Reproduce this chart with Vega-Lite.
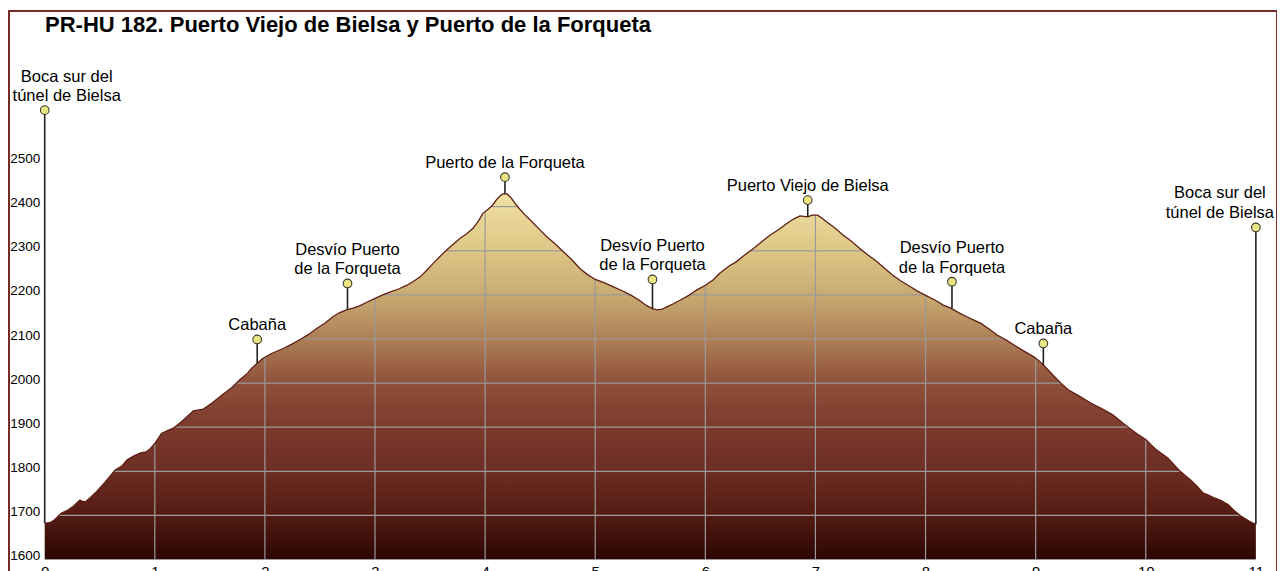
{
  "$schema": "https://vega.github.io/schema/vega-lite/v6.json",
  "width": 1268,
  "height": 589,
  "autosize": {"type": "none"},
  "padding": {"left": 9, "top": 11, "right": 0, "bottom": 0},
  "background": "white",
  "config": {
    "view": {"stroke": "#7a2b28", "strokeWidth": 2},
    "font": "Liberation Sans"
  },
  "title": {
    "text": "PR-HU 182. Puerto Viejo de Bielsa y Puerto de la Forqueta",
    "orient": "none",
    "anchor": "start",
    "frame": "group",
    "font": "Liberation Sans",
    "fontSize": 22,
    "fontWeight": "bold",
    "color": "#000000",
    "baseline": "alphabetic",
    "align": "left",
    "dx": 36,
    "dy": 21
  },
  "datasets": {
    "profile": [
      {"km": 0, "elev": 1682}, {"km": 0.05, "elev": 1684}, {"km": 0.09, "elev": 1690}, {"km": 0.15, "elev": 1705},
      {"km": 0.21, "elev": 1712}, {"km": 0.26, "elev": 1721}, {"km": 0.32, "elev": 1735}, {"km": 0.35, "elev": 1731},
      {"km": 0.37, "elev": 1731}, {"km": 0.42, "elev": 1742}, {"km": 0.47, "elev": 1754}, {"km": 0.55, "elev": 1776},
      {"km": 0.64, "elev": 1803}, {"km": 0.7, "elev": 1812}, {"km": 0.75, "elev": 1826}, {"km": 0.81, "elev": 1835},
      {"km": 0.87, "elev": 1842}, {"km": 0.92, "elev": 1844}, {"km": 0.96, "elev": 1852}, {"km": 1.0, "elev": 1863},
      {"km": 1.06, "elev": 1886}, {"km": 1.12, "elev": 1893}, {"km": 1.17, "elev": 1898}, {"km": 1.25, "elev": 1914},
      {"km": 1.35, "elev": 1937}, {"km": 1.44, "elev": 1941}, {"km": 1.52, "elev": 1955}, {"km": 1.61, "elev": 1973},
      {"km": 1.7, "elev": 1990}, {"km": 1.77, "elev": 2007}, {"km": 1.84, "elev": 2022}, {"km": 1.88, "elev": 2034},
      {"km": 1.93, "elev": 2045}, {"km": 1.98, "elev": 2056}, {"km": 2.05, "elev": 2066}, {"km": 2.17, "elev": 2079},
      {"km": 2.24, "elev": 2088}, {"km": 2.32, "elev": 2099}, {"km": 2.4, "elev": 2111}, {"km": 2.47, "elev": 2124},
      {"km": 2.55, "elev": 2137}, {"km": 2.62, "elev": 2151}, {"km": 2.68, "elev": 2160}, {"km": 2.74, "elev": 2166},
      {"km": 2.8, "elev": 2170}, {"km": 2.86, "elev": 2175}, {"km": 2.93, "elev": 2184}, {"km": 3.0, "elev": 2192},
      {"km": 3.07, "elev": 2200}, {"km": 3.14, "elev": 2207}, {"km": 3.22, "elev": 2214}, {"km": 3.29, "elev": 2222},
      {"km": 3.35, "elev": 2231}, {"km": 3.41, "elev": 2241}, {"km": 3.47, "elev": 2256}, {"km": 3.53, "elev": 2272},
      {"km": 3.59, "elev": 2287}, {"km": 3.65, "elev": 2302}, {"km": 3.71, "elev": 2315}, {"km": 3.77, "elev": 2328},
      {"km": 3.83, "elev": 2338}, {"km": 3.89, "elev": 2351}, {"km": 3.94, "elev": 2368}, {"km": 3.98, "elev": 2385},
      {"km": 4.03, "elev": 2395}, {"km": 4.07, "elev": 2404}, {"km": 4.1, "elev": 2415}, {"km": 4.13, "elev": 2423},
      {"km": 4.16, "elev": 2429}, {"km": 4.2, "elev": 2429}, {"km": 4.24, "elev": 2419}, {"km": 4.28, "elev": 2405},
      {"km": 4.32, "elev": 2393}, {"km": 4.36, "elev": 2382}, {"km": 4.41, "elev": 2370}, {"km": 4.48, "elev": 2352},
      {"km": 4.56, "elev": 2332}, {"km": 4.64, "elev": 2315}, {"km": 4.71, "elev": 2298}, {"km": 4.79, "elev": 2279},
      {"km": 4.86, "elev": 2260}, {"km": 4.93, "elev": 2246}, {"km": 5.0, "elev": 2235}, {"km": 5.08, "elev": 2228},
      {"km": 5.16, "elev": 2219}, {"km": 5.24, "elev": 2210}, {"km": 5.32, "elev": 2200}, {"km": 5.4, "elev": 2188},
      {"km": 5.47, "elev": 2175}, {"km": 5.52, "elev": 2169}, {"km": 5.56, "elev": 2166}, {"km": 5.6, "elev": 2167},
      {"km": 5.65, "elev": 2173}, {"km": 5.71, "elev": 2180}, {"km": 5.77, "elev": 2188}, {"km": 5.85, "elev": 2199},
      {"km": 5.92, "elev": 2211}, {"km": 6.0, "elev": 2222}, {"km": 6.07, "elev": 2234}, {"km": 6.13, "elev": 2249},
      {"km": 6.22, "elev": 2266}, {"km": 6.28, "elev": 2275}, {"km": 6.36, "elev": 2291}, {"km": 6.44, "elev": 2306},
      {"km": 6.52, "elev": 2322}, {"km": 6.59, "elev": 2336}, {"km": 6.67, "elev": 2349}, {"km": 6.74, "elev": 2362},
      {"km": 6.8, "elev": 2372}, {"km": 6.86, "elev": 2379}, {"km": 6.93, "elev": 2377}, {"km": 6.97, "elev": 2381},
      {"km": 7.02, "elev": 2381}, {"km": 7.06, "elev": 2374}, {"km": 7.1, "elev": 2366}, {"km": 7.18, "elev": 2351},
      {"km": 7.25, "elev": 2336}, {"km": 7.33, "elev": 2321}, {"km": 7.4, "elev": 2306}, {"km": 7.48, "elev": 2290},
      {"km": 7.56, "elev": 2275}, {"km": 7.63, "elev": 2260}, {"km": 7.7, "elev": 2245}, {"km": 7.78, "elev": 2231},
      {"km": 7.86, "elev": 2219}, {"km": 7.93, "elev": 2208}, {"km": 8.01, "elev": 2198}, {"km": 8.09, "elev": 2188},
      {"km": 8.16, "elev": 2177}, {"km": 8.23, "elev": 2170}, {"km": 8.3, "elev": 2160}, {"km": 8.37, "elev": 2151},
      {"km": 8.44, "elev": 2143}, {"km": 8.5, "elev": 2136}, {"km": 8.58, "elev": 2122}, {"km": 8.65, "elev": 2109},
      {"km": 8.73, "elev": 2098}, {"km": 8.8, "elev": 2087}, {"km": 8.89, "elev": 2073}, {"km": 8.98, "elev": 2060},
      {"km": 9.03, "elev": 2051}, {"km": 9.07, "elev": 2041}, {"km": 9.12, "elev": 2028}, {"km": 9.17, "elev": 2015},
      {"km": 9.23, "elev": 2000}, {"km": 9.3, "elev": 1984}, {"km": 9.4, "elev": 1970}, {"km": 9.5, "elev": 1955},
      {"km": 9.6, "elev": 1942}, {"km": 9.7, "elev": 1928}, {"km": 9.78, "elev": 1912}, {"km": 9.85, "elev": 1898},
      {"km": 9.92, "elev": 1885}, {"km": 10.0, "elev": 1872}, {"km": 10.05, "elev": 1860}, {"km": 10.1, "elev": 1848},
      {"km": 10.2, "elev": 1830}, {"km": 10.3, "elev": 1803}, {"km": 10.35, "elev": 1792}, {"km": 10.41, "elev": 1780},
      {"km": 10.47, "elev": 1765}, {"km": 10.52, "elev": 1751}, {"km": 10.57, "elev": 1746}, {"km": 10.63, "elev": 1739},
      {"km": 10.69, "elev": 1733}, {"km": 10.75, "elev": 1724}, {"km": 10.8, "elev": 1712}, {"km": 10.86, "elev": 1699},
      {"km": 10.92, "elev": 1690}, {"km": 10.96, "elev": 1684}, {"km": 11.0, "elev": 1680}
    ],
    "markers": [
      {"km": 0, "top": 2619, "ground": 1682, "label": "Boca sur del\ntúnel de Bielsa", "side": "start", "lines": 2},
      {"km": 1.93, "top": 2099, "ground": 2045, "label": "Cabaña", "side": "mid", "lines": 1},
      {"km": 2.75, "top": 2226, "ground": 2166, "label": "Desvío Puerto\nde la Forqueta", "side": "mid", "lines": 2},
      {"km": 4.18, "top": 2467, "ground": 2429, "label": "Puerto de la Forqueta", "side": "mid", "lines": 1},
      {"km": 5.52, "top": 2235, "ground": 2169, "label": "Desvío Puerto\nde la Forqueta", "side": "mid", "lines": 2},
      {"km": 6.93, "top": 2415, "ground": 2377, "label": "Puerto Viejo de Bielsa", "side": "mid", "lines": 1},
      {"km": 8.24, "top": 2230, "ground": 2170, "label": "Desvío Puerto\nde la Forqueta", "side": "mid", "lines": 2},
      {"km": 9.07, "top": 2090, "ground": 2041, "label": "Cabaña", "side": "mid", "lines": 1},
      {"km": 11, "top": 2353, "ground": 1680, "label": "Boca sur del\ntúnel de Bielsa", "side": "end", "lines": 2}
    ],
    "hgrid": [
      {"elev": 1600}, {"elev": 1700}, {"elev": 1800}, {"elev": 1900}, {"elev": 2000},
      {"elev": 2100}, {"elev": 2200}, {"elev": 2300}, {"elev": 2400}, {"elev": 2500}
    ],
    "vgrid": [
      {"km": 1}, {"km": 2}, {"km": 3}, {"km": 4}, {"km": 5},
      {"km": 6}, {"km": 7}, {"km": 8}, {"km": 9}, {"km": 10}
    ]
  },
  "layer": [
    {
      "data": {"name": "profile"},
      "mark": {
        "type": "area",
        "color": {
          "gradient": "linear",
          "x1": 0, "y1": 0, "x2": 0, "y2": 1,
          "stops": [
            {"offset": 0, "color": "#f1e2a2"},
            {"offset": 0.156, "color": "#ddc686"},
            {"offset": 0.276, "color": "#c9ab72"},
            {"offset": 0.397, "color": "#ad7f58"},
            {"offset": 0.517, "color": "#8f503a"},
            {"offset": 0.638, "color": "#7c3a2d"},
            {"offset": 0.759, "color": "#6c2d23"},
            {"offset": 0.879, "color": "#531b13"},
            {"offset": 1, "color": "#2c0603"}
          ]
        }
      },
      "encoding": {
        "x": {"field": "km", "type": "quantitative",
              "scale": {"domain": [-0.3243, 11.192], "nice": false, "zero": false},
              "axis": {"orient": "bottom", "values": [0, 1, 2, 3, 4, 5, 6, 7, 8, 9, 10, 11], "format": "d", "domain": false, "ticks": false, "grid": false, "title": null, "zindex": 1, "labelFont": "Liberation Sans", "labelFontSize": 15, "labelColor": "#000000", "labelBaseline": "top", "labelPadding": -35.5, "labelFlush": false, "labelOverlap": false}},
        "y": {"field": "elev", "type": "quantitative",
              "scale": {"domain": [1508.2, 2843.8], "nice": false, "zero": false},
              "axis": {"orient": "left", "offset": -35.7, "values": [1600, 1700, 1800, 1900, 2000, 2100, 2200, 2300, 2400, 2500], "format": "d", "domain": false, "ticks": false, "grid": false, "title": null, "zindex": 1, "labelFont": "Liberation Sans", "labelFontSize": 13.5, "labelColor": "#000000", "labelAlign": "right", "labelBaseline": "alphabetic", "labelPadding": 5, "labelFlush": false, "labelOverlap": false}},
        "y2": {"datum": 1600}
      }
    },
    {
      "data": {"name": "hgrid"},
      "mark": {"type": "rule", "color": "#9a9a9a", "strokeWidth": 1.2},
      "encoding": {
        "y": {"field": "elev", "type": "quantitative",
              "scale": {"domain": [1508.2, 2843.8], "nice": false, "zero": false},
              "axis": {"orient": "left", "offset": -35.7, "values": [1600, 1700, 1800, 1900, 2000, 2100, 2200, 2300, 2400, 2500], "format": "d", "domain": false, "ticks": false, "grid": false, "title": null, "zindex": 1, "labelFont": "Liberation Sans", "labelFontSize": 13.5, "labelColor": "#000000", "labelAlign": "right", "labelBaseline": "alphabetic", "labelPadding": 5, "labelFlush": false, "labelOverlap": false}},
        "x": {"datum": 0, "type": "quantitative",
              "scale": {"domain": [-0.3243, 11.192], "nice": false, "zero": false},
              "axis": {"orient": "bottom", "values": [0, 1, 2, 3, 4, 5, 6, 7, 8, 9, 10, 11], "format": "d", "domain": false, "ticks": false, "grid": false, "title": null, "zindex": 1, "labelFont": "Liberation Sans", "labelFontSize": 15, "labelColor": "#000000", "labelBaseline": "top", "labelPadding": -35.5, "labelFlush": false, "labelOverlap": false}},
        "x2": {"datum": 11}
      }
    },
    {
      "data": {"name": "vgrid"},
      "mark": {"type": "rule", "color": "#9a9a9a", "strokeWidth": 1.2},
      "encoding": {
        "x": {"field": "km", "type": "quantitative",
              "scale": {"domain": [-0.3243, 11.192], "nice": false, "zero": false},
              "axis": {"orient": "bottom", "values": [0, 1, 2, 3, 4, 5, 6, 7, 8, 9, 10, 11], "format": "d", "domain": false, "ticks": false, "grid": false, "title": null, "zindex": 1, "labelFont": "Liberation Sans", "labelFontSize": 15, "labelColor": "#000000", "labelBaseline": "top", "labelPadding": -35.5, "labelFlush": false, "labelOverlap": false}},
        "y": {"datum": 1600, "type": "quantitative",
              "scale": {"domain": [1508.2, 2843.8], "nice": false, "zero": false},
              "axis": {"orient": "left", "offset": -35.7, "values": [1600, 1700, 1800, 1900, 2000, 2100, 2200, 2300, 2400, 2500], "format": "d", "domain": false, "ticks": false, "grid": false, "title": null, "zindex": 1, "labelFont": "Liberation Sans", "labelFontSize": 13.5, "labelColor": "#000000", "labelAlign": "right", "labelBaseline": "alphabetic", "labelPadding": 5, "labelFlush": false, "labelOverlap": false}},
        "y2": {"datum": 2600}
      }
    },
    {
      "data": {"name": "profile"},
      "mark": {"type": "area", "color": "#ffffff"},
      "encoding": {
        "x": {"field": "km", "type": "quantitative",
              "scale": {"domain": [-0.3243, 11.192], "nice": false, "zero": false},
              "axis": {"orient": "bottom", "values": [0, 1, 2, 3, 4, 5, 6, 7, 8, 9, 10, 11], "format": "d", "domain": false, "ticks": false, "grid": false, "title": null, "zindex": 1, "labelFont": "Liberation Sans", "labelFontSize": 15, "labelColor": "#000000", "labelBaseline": "top", "labelPadding": -35.5, "labelFlush": false, "labelOverlap": false}},
        "y": {"field": "elev", "type": "quantitative",
              "scale": {"domain": [1508.2, 2843.8], "nice": false, "zero": false},
              "axis": {"orient": "left", "offset": -35.7, "values": [1600, 1700, 1800, 1900, 2000, 2100, 2200, 2300, 2400, 2500], "format": "d", "domain": false, "ticks": false, "grid": false, "title": null, "zindex": 1, "labelFont": "Liberation Sans", "labelFontSize": 13.5, "labelColor": "#000000", "labelAlign": "right", "labelBaseline": "alphabetic", "labelPadding": 5, "labelFlush": false, "labelOverlap": false}},
        "y2": {"datum": 2700}
      }
    },
    {
      "data": {"name": "profile"},
      "mark": {"type": "line", "color": "#5e1d13", "strokeWidth": 1.3},
      "encoding": {
        "x": {"field": "km", "type": "quantitative",
              "scale": {"domain": [-0.3243, 11.192], "nice": false, "zero": false},
              "axis": {"orient": "bottom", "values": [0, 1, 2, 3, 4, 5, 6, 7, 8, 9, 10, 11], "format": "d", "domain": false, "ticks": false, "grid": false, "title": null, "zindex": 1, "labelFont": "Liberation Sans", "labelFontSize": 15, "labelColor": "#000000", "labelBaseline": "top", "labelPadding": -35.5, "labelFlush": false, "labelOverlap": false}},
        "y": {"field": "elev", "type": "quantitative",
              "scale": {"domain": [1508.2, 2843.8], "nice": false, "zero": false},
              "axis": {"orient": "left", "offset": -35.7, "values": [1600, 1700, 1800, 1900, 2000, 2100, 2200, 2300, 2400, 2500], "format": "d", "domain": false, "ticks": false, "grid": false, "title": null, "zindex": 1, "labelFont": "Liberation Sans", "labelFontSize": 13.5, "labelColor": "#000000", "labelAlign": "right", "labelBaseline": "alphabetic", "labelPadding": 5, "labelFlush": false, "labelOverlap": false}}
      }
    },
    {
      "data": {"name": "markers"},
      "mark": {"type": "rule", "color": "#222222", "strokeWidth": 1.6},
      "encoding": {
        "x": {"field": "km", "type": "quantitative",
              "scale": {"domain": [-0.3243, 11.192], "nice": false, "zero": false},
              "axis": {"orient": "bottom", "values": [0, 1, 2, 3, 4, 5, 6, 7, 8, 9, 10, 11], "format": "d", "domain": false, "ticks": false, "grid": false, "title": null, "zindex": 1, "labelFont": "Liberation Sans", "labelFontSize": 15, "labelColor": "#000000", "labelBaseline": "top", "labelPadding": -35.5, "labelFlush": false, "labelOverlap": false}},
        "y": {"field": "top", "type": "quantitative",
              "scale": {"domain": [1508.2, 2843.8], "nice": false, "zero": false},
              "axis": {"orient": "left", "offset": -35.7, "values": [1600, 1700, 1800, 1900, 2000, 2100, 2200, 2300, 2400, 2500], "format": "d", "domain": false, "ticks": false, "grid": false, "title": null, "zindex": 1, "labelFont": "Liberation Sans", "labelFontSize": 13.5, "labelColor": "#000000", "labelAlign": "right", "labelBaseline": "alphabetic", "labelPadding": 5, "labelFlush": false, "labelOverlap": false}},
        "y2": {"field": "ground"}
      }
    },
    {
      "data": {"name": "markers"},
      "mark": {"type": "point", "shape": "circle", "filled": true, "size": 75, "fill": "#ebe485", "stroke": "#3a3a2c", "strokeWidth": 1.1, "opacity": 1},
      "encoding": {
        "x": {"field": "km", "type": "quantitative",
              "scale": {"domain": [-0.3243, 11.192], "nice": false, "zero": false},
              "axis": {"orient": "bottom", "values": [0, 1, 2, 3, 4, 5, 6, 7, 8, 9, 10, 11], "format": "d", "domain": false, "ticks": false, "grid": false, "title": null, "zindex": 1, "labelFont": "Liberation Sans", "labelFontSize": 15, "labelColor": "#000000", "labelBaseline": "top", "labelPadding": -35.5, "labelFlush": false, "labelOverlap": false}},
        "y": {"field": "top", "type": "quantitative",
              "scale": {"domain": [1508.2, 2843.8], "nice": false, "zero": false},
              "axis": {"orient": "left", "offset": -35.7, "values": [1600, 1700, 1800, 1900, 2000, 2100, 2200, 2300, 2400, 2500], "format": "d", "domain": false, "ticks": false, "grid": false, "title": null, "zindex": 1, "labelFont": "Liberation Sans", "labelFontSize": 13.5, "labelColor": "#000000", "labelAlign": "right", "labelBaseline": "alphabetic", "labelPadding": 5, "labelFlush": false, "labelOverlap": false}}
      }
    },
    {
      "data": {"name": "markers"},
      "transform": [{"filter": "datum.side == 'mid' && datum.lines == 1"}],
      "mark": {"type": "text", "font": "Liberation Sans", "fontSize": 16.5, "color": "#000000", "align": "center", "baseline": "bottom", "lineBreak": "\n", "lineHeight": 19.5, "dy": -6},
      "encoding": {
        "x": {"field": "km", "type": "quantitative",
              "scale": {"domain": [-0.3243, 11.192], "nice": false, "zero": false},
              "axis": {"orient": "bottom", "values": [0, 1, 2, 3, 4, 5, 6, 7, 8, 9, 10, 11], "format": "d", "domain": false, "ticks": false, "grid": false, "title": null, "zindex": 1, "labelFont": "Liberation Sans", "labelFontSize": 15, "labelColor": "#000000", "labelBaseline": "top", "labelPadding": -35.5, "labelFlush": false, "labelOverlap": false}},
        "y": {"field": "top", "type": "quantitative",
              "scale": {"domain": [1508.2, 2843.8], "nice": false, "zero": false},
              "axis": {"orient": "left", "offset": -35.7, "values": [1600, 1700, 1800, 1900, 2000, 2100, 2200, 2300, 2400, 2500], "format": "d", "domain": false, "ticks": false, "grid": false, "title": null, "zindex": 1, "labelFont": "Liberation Sans", "labelFontSize": 13.5, "labelColor": "#000000", "labelAlign": "right", "labelBaseline": "alphabetic", "labelPadding": 5, "labelFlush": false, "labelOverlap": false}},
        "text": {"field": "label", "type": "nominal"}
      }
    },
    {
      "data": {"name": "markers"},
      "transform": [{"filter": "datum.side == 'mid' && datum.lines == 2"}],
      "mark": {"type": "text", "font": "Liberation Sans", "fontSize": 16.5, "color": "#000000", "align": "center", "baseline": "bottom", "lineBreak": "\n", "lineHeight": 19.5, "dy": -25.5},
      "encoding": {
        "x": {"field": "km", "type": "quantitative",
              "scale": {"domain": [-0.3243, 11.192], "nice": false, "zero": false},
              "axis": {"orient": "bottom", "values": [0, 1, 2, 3, 4, 5, 6, 7, 8, 9, 10, 11], "format": "d", "domain": false, "ticks": false, "grid": false, "title": null, "zindex": 1, "labelFont": "Liberation Sans", "labelFontSize": 15, "labelColor": "#000000", "labelBaseline": "top", "labelPadding": -35.5, "labelFlush": false, "labelOverlap": false}},
        "y": {"field": "top", "type": "quantitative",
              "scale": {"domain": [1508.2, 2843.8], "nice": false, "zero": false},
              "axis": {"orient": "left", "offset": -35.7, "values": [1600, 1700, 1800, 1900, 2000, 2100, 2200, 2300, 2400, 2500], "format": "d", "domain": false, "ticks": false, "grid": false, "title": null, "zindex": 1, "labelFont": "Liberation Sans", "labelFontSize": 13.5, "labelColor": "#000000", "labelAlign": "right", "labelBaseline": "alphabetic", "labelPadding": 5, "labelFlush": false, "labelOverlap": false}},
        "text": {"field": "label", "type": "nominal"}
      }
    },
    {
      "data": {"name": "markers"},
      "transform": [{"filter": "datum.side == 'start'"}],
      "mark": {"type": "text", "font": "Liberation Sans", "fontSize": 16.5, "color": "#000000", "align": "center", "baseline": "bottom", "lineBreak": "\n", "lineHeight": 18.5, "dy": -25, "dx": 22},
      "encoding": {
        "x": {"field": "km", "type": "quantitative",
              "scale": {"domain": [-0.3243, 11.192], "nice": false, "zero": false},
              "axis": {"orient": "bottom", "values": [0, 1, 2, 3, 4, 5, 6, 7, 8, 9, 10, 11], "format": "d", "domain": false, "ticks": false, "grid": false, "title": null, "zindex": 1, "labelFont": "Liberation Sans", "labelFontSize": 15, "labelColor": "#000000", "labelBaseline": "top", "labelPadding": -35.5, "labelFlush": false, "labelOverlap": false}},
        "y": {"field": "top", "type": "quantitative",
              "scale": {"domain": [1508.2, 2843.8], "nice": false, "zero": false},
              "axis": {"orient": "left", "offset": -35.7, "values": [1600, 1700, 1800, 1900, 2000, 2100, 2200, 2300, 2400, 2500], "format": "d", "domain": false, "ticks": false, "grid": false, "title": null, "zindex": 1, "labelFont": "Liberation Sans", "labelFontSize": 13.5, "labelColor": "#000000", "labelAlign": "right", "labelBaseline": "alphabetic", "labelPadding": 5, "labelFlush": false, "labelOverlap": false}},
        "text": {"field": "label", "type": "nominal"}
      }
    },
    {
      "data": {"name": "markers"},
      "transform": [{"filter": "datum.side == 'end'"}],
      "mark": {"type": "text", "font": "Liberation Sans", "fontSize": 16.5, "color": "#000000", "align": "center", "baseline": "bottom", "lineBreak": "\n", "lineHeight": 19.5, "dy": -26, "dx": -36},
      "encoding": {
        "x": {"field": "km", "type": "quantitative",
              "scale": {"domain": [-0.3243, 11.192], "nice": false, "zero": false},
              "axis": {"orient": "bottom", "values": [0, 1, 2, 3, 4, 5, 6, 7, 8, 9, 10, 11], "format": "d", "domain": false, "ticks": false, "grid": false, "title": null, "zindex": 1, "labelFont": "Liberation Sans", "labelFontSize": 15, "labelColor": "#000000", "labelBaseline": "top", "labelPadding": -35.5, "labelFlush": false, "labelOverlap": false}},
        "y": {"field": "top", "type": "quantitative",
              "scale": {"domain": [1508.2, 2843.8], "nice": false, "zero": false},
              "axis": {"orient": "left", "offset": -35.7, "values": [1600, 1700, 1800, 1900, 2000, 2100, 2200, 2300, 2400, 2500], "format": "d", "domain": false, "ticks": false, "grid": false, "title": null, "zindex": 1, "labelFont": "Liberation Sans", "labelFontSize": 13.5, "labelColor": "#000000", "labelAlign": "right", "labelBaseline": "alphabetic", "labelPadding": 5, "labelFlush": false, "labelOverlap": false}},
        "text": {"field": "label", "type": "nominal"}
      }
    }
  ]
}
